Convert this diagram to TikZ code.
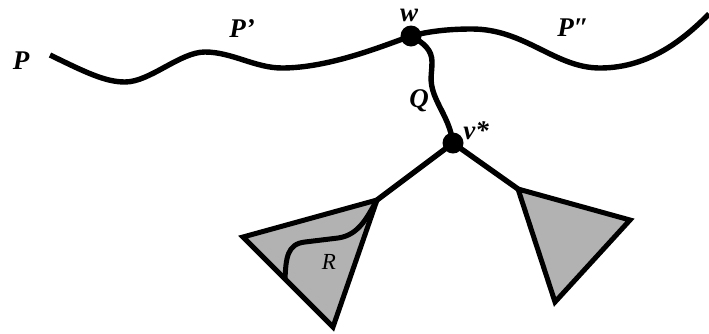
\documentclass[tikz,border=0pt]{standalone}
\usepackage{fontspec}
\setmainfont{Liberation Serif}
\begin{document}
\begin{tikzpicture}[x=1pt,y=-1pt,
  path/.style={line width=5.4pt, line join=round},
  vtx/.style={circle, fill=black, inner sep=0pt, minimum size=21pt},
  lbl/.style={font=\bfseries\itshape\fontsize{27}{29}\selectfont, inner sep=0pt},
  tri/.style={line width=5pt, line join=miter, fill=black!30}]
\useasboundingbox (0,0) rectangle (709,333);
% triangles
\coordinate (la) at (377,200);
\coordinate (lb) at (243,237);
\coordinate (lc) at (333,327);
\coordinate (ra) at (518,189);
\coordinate (rb) at (630,220);
\coordinate (rc) at (555,302);
\draw[tri] (la) -- (lb) -- (lc) -- cycle;
\draw[tri] (ra) -- (rb) -- (rc) -- cycle;
% nodes
\node[vtx] (w) at (411,36) {};
\node[vtx] (v) at (453,143) {};
\coordinate (ps) at (50,55);
\coordinate (pe) at (709,14);
\coordinate (rs) at (285,279);
% path P
\draw[path] (ps) .. controls (85,72) and (105,82) .. (125,82)
  .. controls (150,82) and (180,52) .. (205,52)
  .. controls (232,52) and (255,68) .. (282,68)
  .. controls (330,68) and (385,45) .. (w.center);
\draw[path] (w.center) .. controls (430,31) and (450,29) .. (472,29)
  .. controls (525,29) and (555,68) .. (600,68)
  .. controls (650,68) and (685,38) .. (pe);
% Q
\draw[path] (w.center) .. controls (424,43) and (432,50) .. (432,62)
  .. controls (432,74) and (429,80) .. (434,94)
  .. controls (440,110) and (450,122) .. (v.center);
% branches
\draw[path] (v.center) -- (la);
\draw[path] (v.center) -- (ra);
% R
\draw[line width=5pt] (rs) .. controls (286,258) and (287,244) .. (305,242)
  -- (338,238) .. controls (360,235) and (368,215) .. (la);
% labels
\node[lbl] (lP) at (21,61) {P};
\node[lbl] (lP1) at (242,29) {P’};
\node[lbl] (lw) at (409,15) {w};
\node[lbl] (lP2) at (573,28) {P″};
\node[lbl] (lQ) at (419,101) {Q};
\node[lbl] (lv) at (476,131) {v*};
\node[font=\itshape\fontsize{23}{25}\selectfont, inner sep=0pt] (lR) at (329,262) {R};
\end{tikzpicture}
\end{document}
